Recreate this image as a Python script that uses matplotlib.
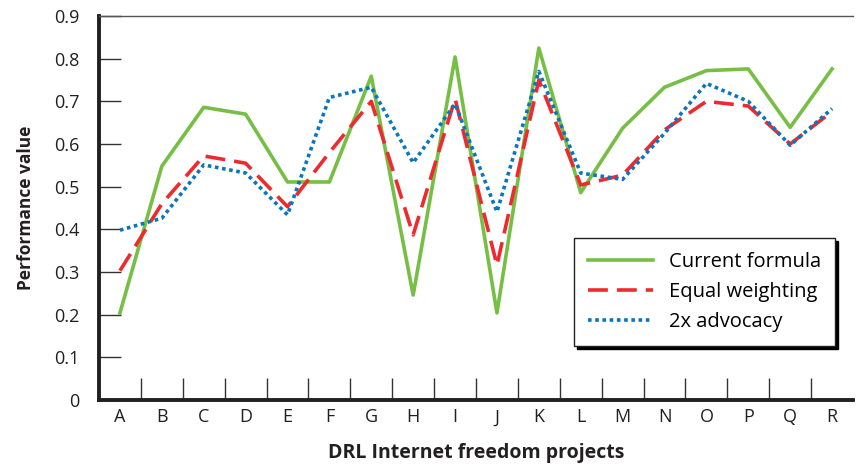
import matplotlib
matplotlib.use("Agg")
import matplotlib.pyplot as plt
import numpy as np

projects = list("ABCDEFGHIJKLMNOPQR")
current_formula = [0.204, 0.548, 0.686, 0.670, 0.511, 0.511, 0.759, 0.246, 0.804,
                   0.204, 0.825, 0.486, 0.637, 0.733, 0.772, 0.776, 0.639, 0.776]
equal_weighting = [0.303, 0.460, 0.572, 0.555, 0.453, 0.580, 0.700, 0.387, 0.706,
                   0.316, 0.750, 0.504, 0.527, 0.633, 0.700, 0.689, 0.600, 0.676]
advocacy_2x = [0.398, 0.426, 0.551, 0.532, 0.434, 0.709, 0.733, 0.556, 0.694,
               0.441, 0.770, 0.532, 0.517, 0.625, 0.742, 0.700, 0.597, 0.683]
yticks = [0, 0.1, 0.2, 0.3, 0.4, 0.5, 0.6, 0.7, 0.8, 0.9]

plt.rcParams['font.family'] = ['Open Sans', 'DejaVu Sans']

fig = plt.figure(figsize=(8.56, 4.70), dpi=100)
ax = fig.add_axes([99/856, 70/470, 754/856, 384/470])

x = np.arange(len(projects))
ax.plot(x, current_formula, color='#76bf44', lw=2.6, label='Current formula')
ax.plot(x, equal_weighting, color='#ee2a2e', lw=2.6, dashes=(5.5, 2.5), label='Equal weighting')
ax.plot(x, advocacy_2x, color='#0a76bd', lw=2.6, dashes=(1.0, 1.0), label='2x advocacy')

ax.set_xlim(-0.5, len(projects) - 0.5)
ax.set_ylim(0, 0.9)

# category labels without marks, boundary ticks pointing up
ax.set_xticks(x)
ax.set_xticklabels(projects, fontsize=13, color='#231f20')
ax.tick_params(axis='x', which='major', length=0, pad=6)
ax.set_xticks(np.arange(0.5, len(projects) - 1, 1.0), minor=True)
ax.tick_params(axis='x', which='minor', direction='in', length=16, width=1, color='#333333')

ax.set_yticks(yticks)
ax.set_yticklabels(['0'] + ['%.1f' % v for v in yticks[1:]], fontsize=13, color='#231f20')
ax.tick_params(axis='y', direction='in', length=16, width=1, color='#333333', pad=14)

for s in ['left', 'bottom']:
    ax.spines[s].set_linewidth(2.8)
    ax.spines[s].set_color('#231f20')
ax.spines['top'].set_color('#555555')
ax.spines['top'].set_linewidth(1.0)
ax.spines['right'].set_visible(False)

ax.set_xlabel('DRL Internet freedom projects', fontsize=14, fontweight='bold',
              labelpad=12, color='#231f20')
ax.set_ylabel('Performance value', fontsize=12.5, fontweight='bold', labelpad=14,
              color='#231f20')

leg = ax.legend(loc='lower right', bbox_to_anchor=(0.976, 0.14), borderaxespad=0,
                fontsize=14.5, frameon=True, fancybox=False, handlelength=3.2,
                handletextpad=0.8, borderpad=0.7, labelspacing=0.5,
                shadow={'color': 'black', 'alpha': 1.0})
leg.get_frame().set_edgecolor('#231f20')
leg.get_frame().set_linewidth(1.0)
leg.get_frame().set_alpha(1.0)

fig.savefig('out.png', dpi=100)
